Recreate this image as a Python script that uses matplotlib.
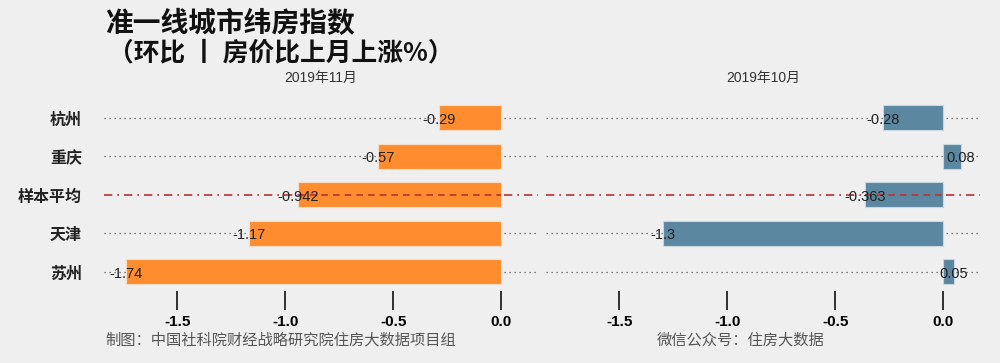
import matplotlib
matplotlib.use("Agg")
import matplotlib.pyplot as plt

plt.rcParams['font.family'] = ['Noto Sans CJK SC', 'DejaVu Sans']

# data
cities = ['杭州', '重庆', '样本平均', '天津', '苏州']
nov_vals = [-0.29, -0.57, -0.942, -1.17, -1.74]
oct_vals = [-0.28, 0.08, -0.363, -1.3, 0.05]
panel_titles = ['2019年11月', '2019年10月']
xticks = [-1.5, -1.0, -0.5, 0.0]
avg_name = '样本平均'

bg = '#efefef'
colors = ['#ff8c2e', '#5b87a1']

fig = plt.figure(figsize=(10, 3.63), dpi=100, facecolor=bg)
ax1 = fig.add_axes([0.104, 0.1977, 0.434, 0.5303])
ax2 = fig.add_axes([0.546, 0.1977, 0.434, 0.5303])

for ax, vals, col, ttl in [(ax1, nov_vals, colors[0], panel_titles[0]),
                           (ax2, oct_vals, colors[1], panel_titles[1])]:
    ax.set_facecolor(bg)
    ypos = list(range(len(cities)))
    # row guide lines
    for i, name in enumerate(cities):
        if name == avg_name:
            ax.axhline(i, color='#b83232', ls=(0, (5, 3, 1, 3)), lw=1.2, zorder=0)
        else:
            ax.axhline(i, color='#555555', ls=(0, (1, 3)), lw=0.9, zorder=0)
    ax.barh(ypos, vals, height=0.65, color=col, edgecolor='#f7dcc6' if col == colors[0] else '#c9d7df',
            linewidth=0.8, zorder=2)
    # dashed average line on top of the bar
    k = cities.index(avg_name)
    ax.plot([vals[k], 0], [k, k], color='#b83232', ls=(0, (4, 3)), lw=1.2, zorder=3)
    for i, v in enumerate(vals):
        ax.text(v, i + 0.05, f'{v:g}', ha='center', va='center', fontsize=10.5,
                family=['Liberation Sans', 'DejaVu Sans'], color='#222222', zorder=4)
    ax.set_xlim(-1.84, 0.17)
    ax.set_ylim(len(cities) - 0.5, -0.5)
    ax.set_xticks(xticks)
    ax.set_xticklabels([f'{t:.1f}' for t in xticks], fontweight='bold', fontsize=11,
                       family=['Liberation Sans Narrow', 'Liberation Sans', 'DejaVu Sans'])
    ax.tick_params(axis='x', direction='out', length=14, width=1.2, color='#111111', pad=3)
    for s in ax.spines.values():
        s.set_visible(False)
    ax.set_title(ttl, fontsize=10, color='#333333', pad=12,
                 family=['Liberation Sans', 'Noto Sans CJK SC'])

ax1.set_yticks(range(len(cities)))
ax1.set_yticklabels(cities, fontsize=11.5, fontweight='bold', color='#222222')
ax1.tick_params(axis='y', length=0, pad=16)
ax2.set_yticks([])

fig.text(0.105, 0.934, '准一线城市纬房指数', fontsize=20, fontweight='bold', color='#111111',
         ha='left', va='center')
fig.text(0.108, 0.853, '（环比 丨 房价比上月上涨%）', fontsize=18.5, fontweight='bold', color='#111111',
         ha='left', va='center')

fig.text(0.105, 0.063, '制图：中国社科院财经战略研究院住房大数据项目组', fontsize=11,
         color='#555555', ha='left', va='center')
fig.text(0.657, 0.063, '微信公众号：住房大数据', fontsize=11,
         color='#555555', ha='left', va='center')

fig.savefig('out.png', dpi=100, facecolor=bg)
